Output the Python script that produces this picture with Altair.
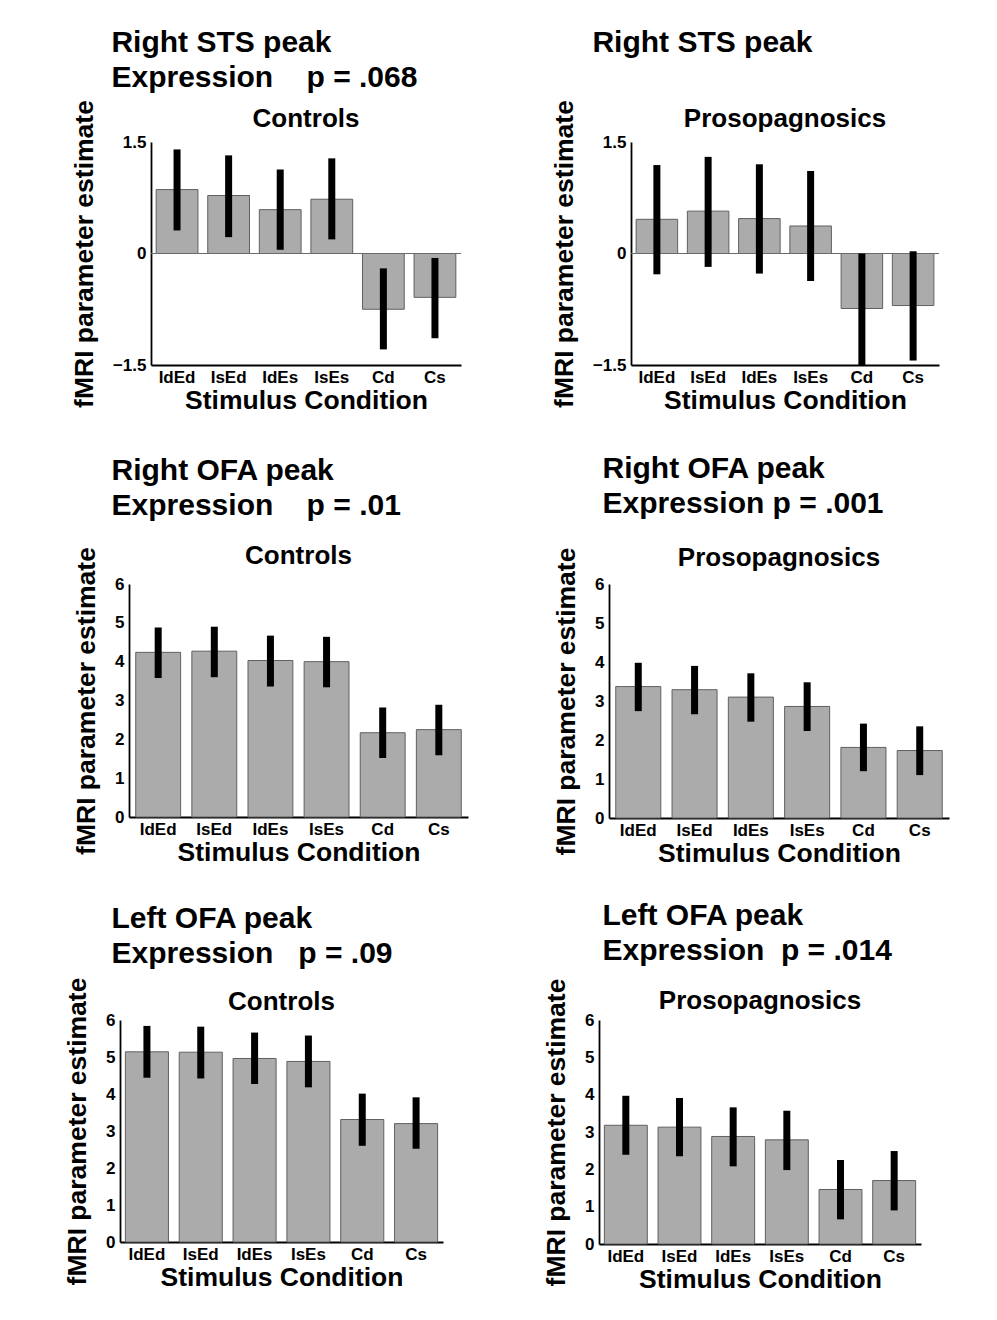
import altair as alt
import pandas as pd

FONT = "Liberation Sans"
NB = "\u00a0"

conditions = ["IdEd", "IsEd", "IdEs", "IsEs", "Cd", "Cs"]

# Right STS peak - Controls
sts_ctrl_mean = [0.86, 0.78, 0.59, 0.73, -0.75, -0.59]
sts_ctrl_lo = [0.31, 0.22, 0.05, 0.19, -1.29, -1.14]
sts_ctrl_hi = [1.40, 1.32, 1.13, 1.28, -0.20, -0.06]

# Right STS peak - Prosopagnosics
sts_pros_mean = [0.46, 0.57, 0.47, 0.37, -0.74, -0.70]
sts_pros_lo = [-0.28, -0.18, -0.27, -0.37, -1.50, -1.44]
sts_pros_hi = [1.19, 1.30, 1.20, 1.11, 0.00, 0.03]

# Right OFA peak - Controls
rofa_ctrl_mean = [4.24, 4.27, 4.03, 4.00, 2.17, 2.25]
rofa_ctrl_lo = [3.58, 3.60, 3.36, 3.34, 1.52, 1.59]
rofa_ctrl_hi = [4.88, 4.90, 4.67, 4.64, 2.82, 2.89]

# Right OFA peak - Prosopagnosics
rofa_pros_mean = [3.37, 3.29, 3.10, 2.86, 1.81, 1.73]
rofa_pros_lo = [2.74, 2.66, 2.47, 2.23, 1.20, 1.10]
rofa_pros_hi = [3.98, 3.90, 3.71, 3.48, 2.42, 2.35]

# Left OFA peak - Controls
lofa_ctrl_mean = [5.14, 5.13, 4.96, 4.88, 3.31, 3.20]
lofa_ctrl_lo = [4.44, 4.42, 4.27, 4.18, 2.60, 2.52]
lofa_ctrl_hi = [5.84, 5.82, 5.66, 5.58, 4.01, 3.91]

# Left OFA peak - Prosopagnosics
lofa_pros_mean = [3.18, 3.13, 2.88, 2.79, 1.46, 1.70]
lofa_pros_lo = [2.39, 2.35, 2.08, 1.98, 0.66, 0.90]
lofa_pros_hi = [3.97, 3.91, 3.66, 3.57, 2.25, 2.49]

sts_domain = [-1.5, 1.5]
sts_ticks = [-1.5, 0, 1.5]
ofa_domain = [0, 6]
ofa_ticks = [0, 1, 2, 3, 4, 5, 6]
zero_level = [0]


def panel(mean, lo, hi, ydomain, yticks, subtitle, header, w, h,
          sub_offset=0, header_dx=35, header_offset=8, zero_line=False,
          pad_in=0.19, pad_out=0.1):
    df = pd.DataFrame({"cond": conditions, "mean": mean, "lo": lo, "hi": hi})
    xscale = alt.Scale(paddingInner=pad_in, paddingOuter=pad_out)
    xaxis = alt.Axis(title="Stimulus Condition", labelAngle=0, ticks=False,
                     labelPadding=4, titlePadding=2)
    yscale = alt.Scale(domain=ydomain, nice=False, zero=False)
    yaxis = alt.Axis(title="fMRI parameter estimate", values=yticks,
                     format=".2~g", labelOverlap=False, ticks=False,
                     grid=False, labelPadding=5, titlePadding=14)
    xenc = alt.X("cond:N", sort=conditions, scale=xscale, axis=xaxis)
    bars = alt.Chart(df).mark_bar(
        color="#ababab", stroke="#606060", strokeWidth=1
    ).encode(
        x=xenc,
        y=alt.Y("mean:Q", scale=yscale, axis=yaxis),
    )
    layers = [bars]
    if zero_line:
        zdf = pd.DataFrame({"z": zero_level})
        layers.append(
            alt.Chart(zdf).mark_rule(color="#6a6a6a", strokeWidth=1.2).encode(
                y=alt.Y("z:Q", scale=yscale, axis=yaxis)
            )
        )
    err = alt.Chart(df).mark_rule(color="black", strokeWidth=7).encode(
        x=xenc,
        y=alt.Y("lo:Q", scale=yscale, axis=yaxis),
        y2="hi:Q",
    )
    layers.append(err)
    inner = alt.layer(*layers).properties(
        width=w, height=h,
        title=alt.TitleParams(subtitle, fontSize=26, fontWeight="bold",
                              font=FONT, anchor="middle", offset=sub_offset,
                              color="black"),
    )
    return alt.vconcat(
        inner,
        title=alt.TitleParams(header, anchor="start", frame="bounds",
                              dx=header_dx, fontSize=30, fontWeight="bold",
                              font=FONT, lineHeight=35, offset=header_offset,
                              color="black"),
    )


def spacer(w):
    return alt.Chart(pd.DataFrame({"s": [0]})).mark_point(opacity=0).encode(
        x=alt.value(0), y=alt.value(0)
    ).properties(width=w, height=10)


p1 = panel(sts_ctrl_mean, sts_ctrl_lo, sts_ctrl_hi, sts_domain, sts_ticks,
           "Controls", ["Right STS peak", "Expression" + NB * 4 + "p = .068"],
           310, 223, zero_line=True, header_dx=40, sub_offset=-32,
           header_offset=7)
p2 = panel(sts_pros_mean, sts_pros_lo, sts_pros_hi, sts_domain, sts_ticks,
           "Prosopagnosics", ["Right STS peak", NB],
           308, 223, zero_line=True, header_dx=41, sub_offset=-32,
           header_offset=7)
p3 = panel(rofa_ctrl_mean, rofa_ctrl_lo, rofa_ctrl_hi, ofa_domain, ofa_ticks,
           "Controls", ["Right OFA peak", "Expression" + NB * 4 + "p = .01"],
           339, 233, header_dx=38, pad_in=0.2, pad_out=0.12, sub_offset=-22,
           header_offset=22)
p4 = panel(rofa_pros_mean, rofa_pros_lo, rofa_pros_hi, ofa_domain, ofa_ticks,
           "Prosopagnosics", ["Right OFA peak", "Expression" + NB + "p = .001"],
           340, 234, header_dx=49, pad_in=0.2, pad_out=0.12, sub_offset=-24,
           header_offset=26)
p5 = panel(lofa_ctrl_mean, lofa_ctrl_lo, lofa_ctrl_hi, ofa_domain, ofa_ticks,
           "Controls", ["Left OFA peak", "Expression" + NB * 3 + "p = .09"],
           323, 222, header_dx=47, pad_in=0.2, pad_out=0.1, sub_offset=-38,
           header_offset=8)
p6 = panel(lofa_pros_mean, lofa_pros_lo, lofa_pros_hi, ofa_domain, ofa_ticks,
           "Prosopagnosics", ["Left OFA peak", "Expression" + NB * 2 + "p = .014"],
           322, 224, header_dx=59, pad_in=0.2, pad_out=0.1, sub_offset=-36,
           header_offset=12)

row1 = alt.hconcat(spacer(20), alt.hconcat(p1, p2, spacing=89), spacing=0)
row2 = alt.hconcat(spacer(22), alt.hconcat(p3, p4, spacing=85), spacing=0)
row3 = alt.hconcat(spacer(13), alt.hconcat(p5, p6, spacing=100), spacing=0)

top_rows = alt.vconcat(row1, row2, spacing=40)

chart = alt.vconcat(top_rows, row3, spacing=34).properties(
    padding={"left": 40, "top": 19, "right": 5, "bottom": 5},
    background="white",
).configure_view(stroke=None).configure_axis(
    labelFont=FONT, labelFontSize=17, labelFontWeight="bold",
    labelColor="black", titleFont=FONT, titleFontSize=26.5,
    titleFontWeight="bold", titleColor="black", domainColor="black",
    domainWidth=1.8,
)

chart.save("out.html", embed_options={"renderer": "svg", "actions": False})
